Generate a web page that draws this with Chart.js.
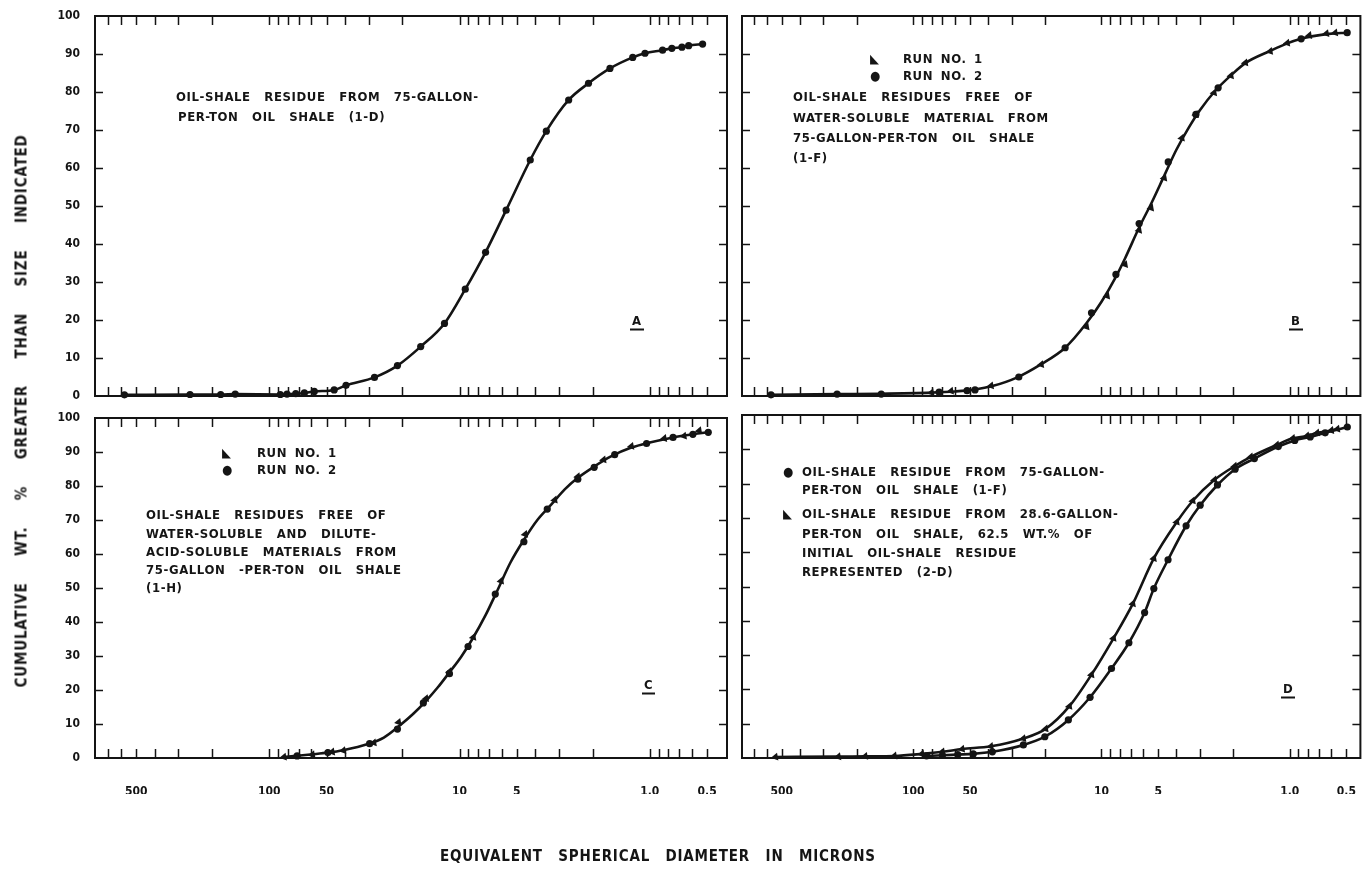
<!DOCTYPE html>
<html><head><meta charset="utf-8">
<script src="https://cdn.jsdelivr.net/npm/chart.js@4.4.1/dist/chart.umd.min.js"></script>
<style>
body{margin:0;background:#fff;width:1365px;height:873px;overflow:hidden;position:relative;}
canvas{position:absolute;left:0;top:0;}
.t{position:absolute;color:#151515;font-family:'DejaVu Sans Condensed','Liberation Sans Narrow','DejaVu Sans',sans-serif;font-stretch:condensed;font-weight:bold;font-size:13px;letter-spacing:0.6px;word-spacing:9px;white-space:pre;line-height:1;transform:translateY(-50%);}
.run{word-spacing:3px;}
.big{font-size:15px;letter-spacing:0.8px;word-spacing:10px;}
.ybig{word-spacing:21px;}
.lab{font-size:13px;border-bottom:2px solid #151515;padding:0 2px 2px 2px;}
</style></head><body>
<canvas id="cA" width="1365" height="873"></canvas>
<canvas id="cB" width="1365" height="873"></canvas>
<canvas id="cC" width="1365" height="873"></canvas>
<canvas id="cD" width="1365" height="873"></canvas>

<div class="t" style="left:176px;top:96px;">OIL-SHALE RESIDUE FROM 75-GALLON-</div>
<div class="t" style="left:178px;top:116px;">PER-TON OIL SHALE (1-D)</div>
<div class="t lab" style="left:630px;top:322px;">A</div>

<div class="t" style="left:870px;top:58px;">◣</div>
<div class="t run" style="left:903px;top:58px;">RUN NO. 1</div>
<div class="t" style="left:870px;top:75px;">●</div>
<div class="t run" style="left:903px;top:75px;">RUN NO. 2</div>
<div class="t" style="left:793px;top:96px;">OIL-SHALE RESIDUES FREE OF</div>
<div class="t" style="left:793px;top:117px;">WATER-SOLUBLE MATERIAL FROM</div>
<div class="t" style="left:793px;top:137px;">75-GALLON-PER-TON OIL SHALE</div>
<div class="t" style="left:793px;top:157px;">(1-F)</div>
<div class="t lab" style="left:1289px;top:322px;">B</div>

<div class="t" style="left:222px;top:452px;">◣</div>
<div class="t run" style="left:257px;top:452px;">RUN NO. 1</div>
<div class="t" style="left:222px;top:469px;">●</div>
<div class="t run" style="left:257px;top:469px;">RUN NO. 2</div>
<div class="t" style="left:146px;top:514px;">OIL-SHALE RESIDUES FREE OF</div>
<div class="t" style="left:146px;top:533px;">WATER-SOLUBLE AND DILUTE-</div>
<div class="t" style="left:146px;top:551px;">ACID-SOLUBLE MATERIALS FROM</div>
<div class="t" style="left:146px;top:569px;">75-GALLON -PER-TON OIL SHALE</div>
<div class="t" style="left:146px;top:587px;">(1-H)</div>
<div class="t lab" style="left:642px;top:686px;">C</div>

<div class="t" style="left:783px;top:471px;">●</div>
<div class="t" style="left:802px;top:471px;">OIL-SHALE RESIDUE FROM 75-GALLON-</div>
<div class="t" style="left:802px;top:489px;">PER-TON OIL SHALE (1-F)</div>
<div class="t" style="left:783px;top:513px;">◣</div>
<div class="t" style="left:802px;top:513px;">OIL-SHALE RESIDUE FROM 28.6-GALLON-</div>
<div class="t" style="left:802px;top:533px;">PER-TON OIL SHALE, 62.5 WT.% OF</div>
<div class="t" style="left:802px;top:552px;">INITIAL OIL-SHALE RESIDUE</div>
<div class="t" style="left:802px;top:571px;">REPRESENTED (2-D)</div>
<div class="t lab" style="left:1281px;top:690px;">D</div>

<div class="t big" style="left:440px;top:856px;">EQUIVALENT SPHERICAL DIAMETER IN MICRONS</div>
<div class="t big ybig" style="left:22px;top:411px;transform:translate(-50%,-50%) rotate(-90deg);">CUMULATIVE WT. % GREATER THAN SIZE INDICATED</div>

<script>
// ---------- axis data ----------
const xTickMarks = [700,600,500,400,300,200,100,90,80,70,60,50,40,30,20,10,9,8,7,6,5,4,3,2,1,0.9,0.8,0.7,0.6,0.5];
const xLabelValues = [500,100,50,10,5,1,0.5];
const xLabelText = ['500','100','50','10','5','1.0','0.5'];
const yTickMarks = [10,20,30,40,50,60,70,80,90];

// ---------- panel A: 1-D ----------
const aDiam = [577,261,180,151,87.5,80.7,72.6,65.4,58,45.6,39.5,28,21.2,16.0,12.0,9.33,7.3,5.69,4.25,3.50,2.67,2.10,1.62,1.23,1.06,0.857,0.766,0.678,0.625,0.528];
const aPct  = [0.3,0.4,0.4,0.5,0.4,0.5,0.6,0.8,1.2,1.6,2.8,4.9,8.0,13.0,19.1,28.1,37.8,48.9,62.1,69.7,77.9,82.3,86.2,89.1,90.2,91.0,91.5,91.8,92.2,92.6];

// ---------- panel B: 1-F ----------
const bRun1Diam = [80,63,38.6,20.9,12.0,9.33,7.49,6.31,5.45,4.64,3.74,3.15,2.52,2.05,1.72,1.27,1.03,0.787,0.638,0.573];
const bRun1Pct  = [0.9,1.3,2.7,8.3,18.2,26.3,34.6,43.6,49.5,57.4,67.9,74.1,79.8,84.3,87.7,90.7,92.9,94.9,95.4,95.6];
const bRun2Diam = [570,254,148,72.9,51.8,47,27.5,15.6,11.3,8.38,6.31,4.42,3.15,2.40,0.869,0.495];
const bRun2Pct  = [0.3,0.5,0.5,1.0,1.4,1.6,5.0,12.7,21.9,32.0,45.4,61.6,74.1,81.1,94.0,95.6];
const bCurveDiam = [570,250,150,80,60,47,38,28,21,15.6,12,10,8.4,7.5,6.3,5.4,4.6,4.0,3.45,3.0,2.5,2.05,1.72,1.27,1.03,0.87,0.75,0.62,0.495];
const bCurvePct  = [0.3,0.5,0.6,0.9,1.2,1.7,2.6,4.9,8.3,12.7,19.2,24.8,31.3,36.2,44.4,51.0,58.4,64.8,70.5,75.2,80.2,84.4,87.6,90.8,92.8,94.0,94.7,95.3,95.6];

// ---------- panel C: 1-H ----------
const cRun1Diam = [83.7,59.3,46.7,40.8,28.2,20.9,15.0,11.3,8.46,6.05,4.52,3.16,2.39,1.75,1.25,0.84,0.661,0.55];
const cRun1Pct  = [0.3,1.0,1.8,2.2,4.5,10.5,17.5,25.4,35.5,52.1,65.8,75.9,82.8,87.7,91.7,94.0,94.7,96.3];
const cRun2Diam = [71.4,49.2,29.7,21.2,15.5,11.3,9.02,6.49,4.59,3.46,2.39,1.96,1.53,1.04,0.755,0.594,0.493];
const cRun2Pct  = [0.6,1.6,4.2,8.5,16.2,24.8,32.8,48.2,63.6,73.2,82.0,85.5,89.2,92.5,94.3,95.2,95.8];
const cCurveDiam = [84,70,59,49,41,30,25,21,17.5,15,13,11.3,9.8,8.5,7.3,6.3,5.4,4.55,3.9,3.3,2.8,2.39,2.0,1.6,1.25,1.0,0.8,0.65,0.5];
const cCurvePct  = [0.3,0.7,1.1,1.6,2.3,4.2,6.0,9.2,13.0,16.8,20.8,25.2,29.8,35.3,42.0,49.5,57.5,64.5,70.0,74.5,79.0,82.4,85.4,88.7,91.3,92.8,94.0,94.9,95.8];

// ---------- panel D: 1-F vs 2-D ----------
const d1FDiam = [85,70,58,48,38,26,20,15.0,11.5,8.85,7.15,5.90,5.27,4.43,3.55,2.99,2.42,1.95,1.54,1.15,0.94,0.778,0.648,0.494];
const d1FPct  = [0.6,0.8,1.0,1.2,1.8,3.8,6.2,11.1,17.7,26.1,33.6,42.4,49.4,57.8,67.7,73.7,79.6,84.2,87.3,90.8,92.6,93.6,94.8,96.5];
const d2DDiam = [540,250,180,126,90,70,55,38.7,26,19.8,14.8,11.3,8.63,6.81,5.27,3.98,3.27,2.51,1.96,1.61,1.17,0.962,0.809,0.715,0.601,0.558];
const d2DPct  = [0.3,0.4,0.5,0.6,1.2,1.8,2.6,3.4,5.7,8.5,15.1,24.3,34.9,45.0,58.2,68.8,75.0,81.1,85.1,87.8,91.3,93.2,93.9,94.8,95.5,95.9];

// ---------- helpers ----------
const INK = '#141414';
const FONT = "'DejaVu Sans Condensed','Liberation Sans Narrow','DejaVu Sans',sans-serif";
const pts = (xs, ys) => xs.map((x, i) => ({x: x, y: ys[i]}));
const curve = (xs, ys) => ({data: pts(xs, ys), borderColor: INK, borderWidth: 2.6, pointRadius: 0, fill: false, cubicInterpolationMode: 'monotone', order: 2});
const circles = (xs, ys, line) => ({data: pts(xs, ys), showLine: !!line, borderColor: INK, borderWidth: 2.6, cubicInterpolationMode: 'monotone', pointStyle: 'circle', pointRadius: 3.6, pointBackgroundColor: INK, pointBorderColor: INK, pointBorderWidth: 0, order: 1});
const tris = (xs, ys, line) => ({data: pts(xs, ys), showLine: !!line, borderColor: INK, borderWidth: 2.6, cubicInterpolationMode: 'monotone', pointStyle: 'triangle', rotation: -100, pointRadius: 4.6, pointBackgroundColor: INK, pointBorderColor: INK, pointBorderWidth: 0, order: 1});

const YW = 40, XH = 36, XT = 9, YT = 8;
const frame = {
  id: 'frame',
  afterDraw(chart) {
    const {ctx, chartArea: a} = chart;
    const x = chart.scales.x, y = chart.scales.y;
    ctx.save();
    ctx.strokeStyle = INK;
    ctx.lineWidth = 1.5;
    ctx.beginPath();
    xTickMarks.forEach(v => {
      const px = Math.round(x.getPixelForValue(v)) + 0.5;
      if (px < a.left + 3 || px > a.right - 3) return;
      ctx.moveTo(px, a.top); ctx.lineTo(px, a.top + XT);
      ctx.moveTo(px, a.bottom); ctx.lineTo(px, a.bottom - XT);
    });
    yTickMarks.forEach(v => {
      const py = Math.round(y.getPixelForValue(v)) + 0.5;
      ctx.moveTo(a.left, py); ctx.lineTo(a.left + YT, py);
      ctx.moveTo(a.right, py); ctx.lineTo(a.right - YT, py);
    });
    ctx.stroke();
    ctx.lineWidth = 2;
    ctx.strokeRect(a.left, a.top, a.right - a.left, a.bottom - a.top);
    ctx.restore();
  }
};

function panel(id, box, datasets) {
  new Chart(document.getElementById(id), {
    type: 'line',
    data: {datasets},
    options: {
      responsive: false, animation: false, clip: false,
      layout: {padding: {left: box.L - YW, top: box.T, right: 1365 - box.R, bottom: 873 - box.B - XH}},
      plugins: {legend: {display: false}, tooltip: {enabled: false}},
      scales: {
        x: {
          type: 'logarithmic', reverse: true, min: box.xmin, max: box.xmax, position: 'bottom',
          afterFit: s => { s.height = XH; s.paddingLeft = 0; s.paddingRight = 0; },
          afterBuildTicks: s => { s.ticks = xLabelValues.map(v => ({value: v})); },
          grid: {display: false}, border: {display: false},
          ticks: {display: box.showX, autoSkip: false, maxRotation: 0, padding: 19, color: INK,
                  font: {family: FONT, size: 12, weight: 'bold'},
                  callback: v => { const i = xLabelValues.indexOf(v); return i < 0 ? '' : xLabelText[i]; }}
        },
        y: {
          min: 0, max: 100,
          afterFit: s => { s.width = YW; s.paddingTop = 0; s.paddingBottom = 0; },
          grid: {display: false}, border: {display: false},
          ticks: {display: box.showY, stepSize: 10, padding: 7, color: INK,
                  font: {family: FONT, size: 12, weight: 'bold'}}
        }
      }
    },
    plugins: [frame]
  });
}

panel('cA', {L: 95, R: 727, T: 16, B: 396, xmin: 0.393, xmax: 824, showX: false, showY: true},
  [curve(aDiam, aPct), circles(aDiam, aPct)]);
panel('cB', {L: 742, R: 1362, T: 16, B: 396, xmin: 0.421, xmax: 813, showX: false, showY: false},
  [curve(bCurveDiam, bCurvePct), tris(bRun1Diam, bRun1Pct), circles(bRun2Diam, bRun2Pct)]);
panel('cC', {L: 95, R: 727, T: 418, B: 758, xmin: 0.393, xmax: 824, showX: true, showY: true},
  [curve(cCurveDiam, cCurvePct), tris(cRun1Diam, cRun1Pct), circles(cRun2Diam, cRun2Pct)]);
panel('cD', {L: 742, R: 1362, T: 415, B: 758, xmin: 0.421, xmax: 813, showX: true, showY: false},
  [circles(d1FDiam, d1FPct, true), tris(d2DDiam, d2DPct, true)]);
</script>
</body></html>
